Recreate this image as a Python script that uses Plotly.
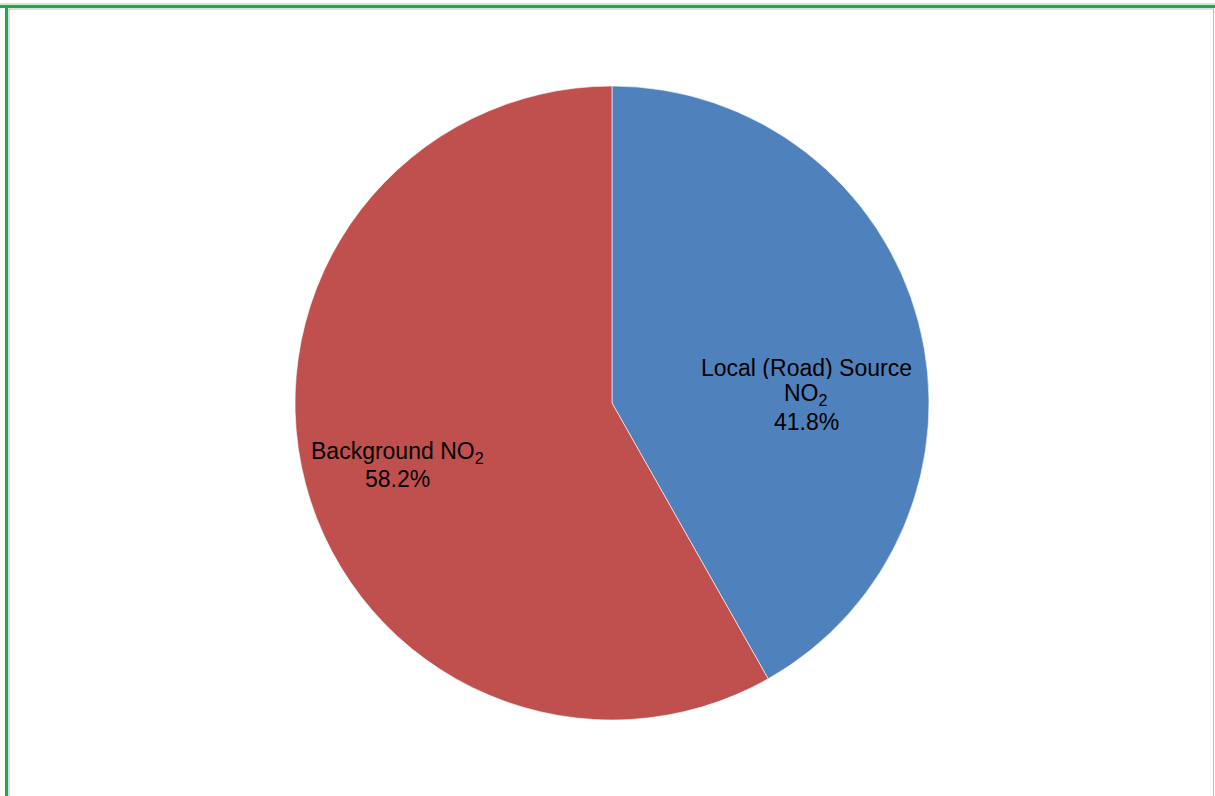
import plotly.graph_objects as go

labels = ["Local (Road) Source NO<sub>2</sub>", "Background NO<sub>2</sub>"]
label_lines = [["Local (Road) Source", "NO<sub>2</sub>"], ["Background NO<sub>2</sub>"]]
values = [41.8, 58.2]
colors = ["#4F81BD", "#C0504D"]

W, H = 1215, 796
cx, cy, r = 612, 403, 317

def px(x):
    return x / W

def py(y):
    return 1 - y / H

fig = go.Figure()
fig.add_trace(go.Pie(
    labels=labels,
    values=values,
    sort=False,
    direction="clockwise",
    rotation=0,
    marker=dict(colors=colors, line=dict(color="rgba(255,255,255,0.6)", width=1)),
    textinfo="none",
    hoverinfo="label+percent",
    showlegend=False,
    domain=dict(x=[px(cx - r), px(cx + r)], y=[py(cy + r), py(cy - r)]),
))

# per-line label placement (x centre, y of each line's cap middle)
label_x = [806, 397]
label_y = [[367, 394, 421], [452.5, 478]]
font = dict(family="Liberation Sans, Arial, sans-serif", size=23, color="#000000")
for lx, ys, lines, v in zip(label_x, label_y, label_lines, values):
    texts = lines + [f"{v:.1f}%"]
    for t, y in zip(texts, ys):
        fig.add_annotation(
            x=px(lx), y=py(y), xref="paper", yref="paper",
            text=t, showarrow=False, font=font, height=23,
            xanchor="center", yanchor="middle",
        )

shapes = [
    dict(type="line", x0=0, x1=1, y0=py(4), y1=py(4), line=dict(color="#8FD6A4", width=1)),
    dict(type="line", x0=0, x1=1, y0=py(6.5), y1=py(6.5), line=dict(color="#1BAA4A", width=3)),
    dict(type="line", x0=px(6.5), x1=px(6.5), y0=0, y1=py(5), line=dict(color="#1BAA4A", width=3)),
    dict(type="line", x0=px(9), x1=px(1214), y0=py(9), y1=py(9), line=dict(color="#BBBBBB", width=1)),
    dict(type="line", x0=px(9), x1=px(9), y0=0, y1=py(9), line=dict(color="#BBBBBB", width=1)),
    dict(type="line", x0=px(1213.5), x1=px(1213.5), y0=0, y1=py(9), line=dict(color="#BBBBBB", width=1)),
]
fig.update_layout(
    width=W, height=H,
    margin=dict(l=0, r=0, t=0, b=0),
    paper_bgcolor="white",
    plot_bgcolor="white",
    shapes=shapes,
)

fig.write_html(
    "out.html",
    config={"displayModeBar": False},
    post_script="document.body.style.margin='0';document.body.style.overflow='hidden';",
)
